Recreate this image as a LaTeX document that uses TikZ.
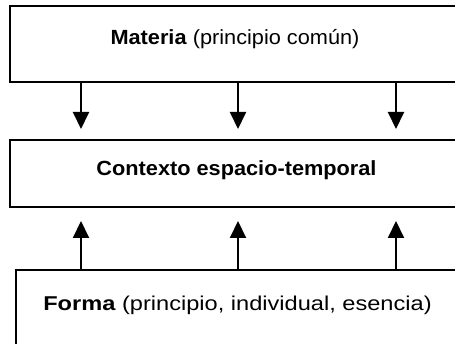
\documentclass[tikz,border=0pt]{standalone}
\usepackage{fontspec}
\setmainfont{Liberation Sans}[FakeStretch=1.06]
\newfontfamily\widefont{Liberation Sans}[FakeStretch=1.18]
\usetikzlibrary{arrows.meta}
\begin{document}
\begin{tikzpicture}[x=1pt,y=-1pt,
  box/.style={draw=black,line width=2pt,inner sep=0pt,anchor=north west},
  lbl/.style={font=\fontsize{20.5}{24}\selectfont,inner sep=0pt,anchor=base},
  arr/.style={line width=2pt,-{Triangle[width=16pt,length=17pt]}}]
\useasboundingbox (0,0) rectangle (455,344);
\clip (0,0) rectangle (455,344);
\node[box,minimum width=470pt,minimum height=76pt] (top) at (9,5) {};
\node[box,minimum width=470pt,minimum height=67pt] (mid) at (9,139) {};
\node[box,minimum width=470pt,minimum height=100pt] (bot) at (15,269) {};
\node[lbl] (toptext) at (235,45) {\textbf{Materia} (principio común)};
\node[lbl] (midtext) at (236.5,176) {\textbf{Contexto espacio-temporal}};
\node[lbl,font=\widefont\fontsize{20}{24}\selectfont] (bottext) at (237.5,310.5) {\textbf{Forma} (principio, individual, esencia)};
\foreach \i/\x in {1/81,2/238,3/396}{
  \coordinate (d\i) at (\x,129);
  \coordinate (u\i) at (\x,221);
  \draw[arr] (top.south west -| d\i) -- (d\i);
  \draw[arr] (bot.north west -| u\i) -- (u\i);
}
\end{tikzpicture}
\end{document}
